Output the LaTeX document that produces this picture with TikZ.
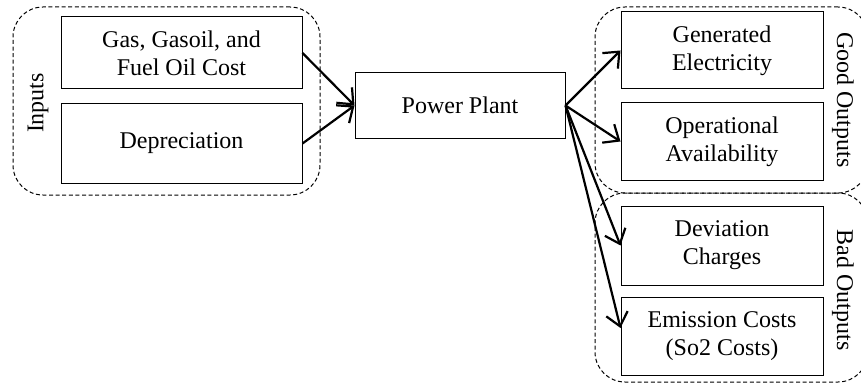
\documentclass[tikz,border=0pt]{standalone}
\usepackage{fontspec}
\setmainfont{Liberation Serif}
\usetikzlibrary{arrows.meta}
\begin{document}
\begin{tikzpicture}[x=0.5pt,y=-0.5pt,
  every node/.style={font=\fontsize{12}{14}\selectfont},
  box/.style={draw,line width=0.5pt,align=center,inner sep=0pt},
  grp/.style={draw,dash pattern=on 2pt off 1.3pt,line width=0.5pt,rounded corners=15pt,inner sep=0pt},
  arr/.style={line width=1.1pt,-{Straight Barb[length=6.5pt,width=11pt,line width=1.1pt]}},
  lbl/.style={inner sep=0pt}]
\useasboundingbox (0,0) rectangle (861,385);
% groups
\node[grp,minimum width=153.5pt,minimum height=94pt] (gin) at (166.5,101) {};
\node[grp,minimum width=136.5pt,minimum height=93pt] (ggood) at (731.5,100) {};
\node[grp,minimum width=136.5pt,minimum height=94.5pt] (gbad) at (731.5,287.5) {};
\node[lbl,rotate=90] (lin) at (38,103) {Inputs};
\node[lbl,rotate=-90] (lgood) at (843,100) {Good Outputs};
\node[lbl,rotate=-90] (lbad) at (843,290) {Bad Outputs};
% boxes
\node[box,minimum width=120.5pt,minimum height=36pt] (gas) at (181.5,53) {Gas, Gasoil, and\\Fuel Oil Cost};
\node[box,minimum width=120.5pt,minimum height=39.5pt] (dep) at (181.5,143.5) {Depreciation};
\node[box,minimum width=105pt,minimum height=32.5pt] (pp) at (460,105.5) {Power Plant};
\node[box,minimum width=101pt,minimum height=38.5pt] (gen) at (722,50.5) {Generated\\Electricity};
\node[box,minimum width=101pt,minimum height=38.5pt] (op) at (722,141.5) {Operational\\Availability};
\node[box,minimum width=101pt,minimum height=39.5pt] (dev) at (722,245.5) {Deviation\\Charges};
\node[box,minimum width=101pt,minimum height=39pt] (em) at (722,336) {Emission Costs\\(So2 Costs)};
% arrows
\draw[arr] (gas.east) -- (pp.west);
\draw[arr] (dep.east) -- (pp.west);
\draw[arr] (pp.east) -- (gen.west);
\draw[arr] (pp.east) -- (op.west);
\draw[arr] (pp.east) -- (dev.west);
\draw[arr] (pp.east) -- ([yshift=4pt]em.west);
\end{tikzpicture}
\end{document}
